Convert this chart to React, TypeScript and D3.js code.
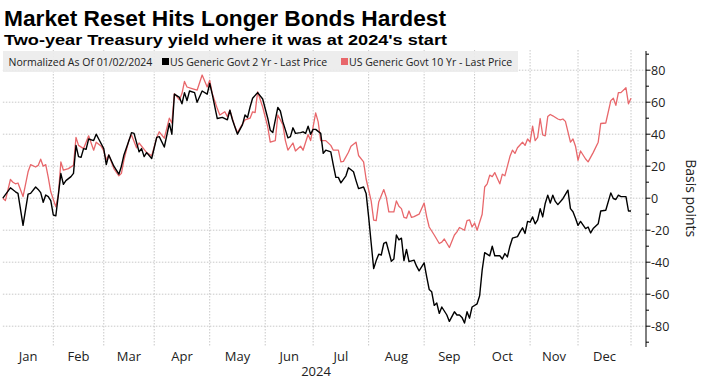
import React from "react";
import * as d3 from "d3";

const TITLE = "Market Reset Hits Longer Bonds Hardest";
const SUBTITLE = "Two-year Treasury yield where it was at 2024's start";
const LEGEND_NOTE = "Normalized As Of 01/02/2024";
const SERIES_NAMES = ["US Generic Govt 2 Yr - Last Price", "US Generic Govt 10 Yr - Last Price"];
const MONTHS = ["Jan", "Feb", "Mar", "Apr", "May", "Jun", "Jul", "Aug", "Sep", "Oct", "Nov", "Dec"];
const YEAR_LABEL = "2024";
const Y_LABEL = "Basis points";
const Y_TICKS = [-80, -60, -40, -20, 0, 20, 40, 60, 80];
const HOLIDAYS = ["2024-01-15", "2024-02-19", "2024-03-29", "2024-05-27", "2024-06-19", "2024-07-04", "2024-09-02", "2024-10-14", "2024-11-11", "2024-11-28", "2024-12-25"];

const twoYrDates = [
  "01-02","01-05","01-09","01-10","01-12","01-17","01-18","01-22","01-23","01-24","01-25","01-26","01-29","01-30","01-31",
  "02-01","02-05","02-06","02-07","02-09","02-12","02-13","02-14","02-15","02-16","02-20","02-21","02-23","02-26","02-27","02-29",
  "03-01","03-04","03-06","03-08","03-11","03-12","03-14","03-15","03-18","03-20","03-21","03-22","03-25","03-27",
  "04-01","04-02","04-04","04-08","04-09","04-10","04-12","04-15","04-16","04-17","04-18","04-22","04-23","04-25","04-29","04-30",
  "05-01","05-03","05-07","05-09","05-10","05-13","05-15","05-17","05-20","05-21","05-22","05-23","05-28","05-30",
  "06-03","06-04","06-05","06-07","06-10","06-11","06-13","06-14","06-17","06-18","06-21","06-24","06-25","06-26","06-27","06-28",
  "07-01","07-03","07-05","07-08","07-10","07-11","07-12","07-15","07-16","07-18","07-19","07-23","07-24","07-25","07-29","07-30","07-31",
  "08-01","08-02","08-05","08-06","08-07","08-08","08-09","08-13","08-14","08-15","08-16","08-19","08-20","08-21","08-22","08-26","08-27","08-28","08-30",
  "09-03","09-04","09-05","09-06","09-09","09-10","09-11","09-13","09-16","09-18","09-19","09-20","09-23","09-24","09-25","09-26","09-27",
  "10-01","10-02","10-03","10-04","10-08","10-09","10-10","10-15","10-16","10-17","10-18","10-21","10-22","10-24","10-25","10-28","10-29","10-30","10-31",
  "11-01","11-04","11-05","11-06","11-07","11-08","11-12","11-13","11-14","11-15","11-18","11-20","11-22","11-25","11-26","11-27","11-29",
  "12-02","12-04","12-05","12-06","12-09","12-11","12-12","12-16","12-18","12-19","12-20","12-23","12-24","12-27","12-30","12-31"
];
const twoYrValues = [
  0, 6.5, 4, 3, -17, 2.5, 3, 7, 5.5, 3.5, -2.5, 2, 1, -1.5, -10.5,
  -11, 15.4, 8.7, 11, 13.5, 15.5, 33, 26, 25.5, 31, 30.5, 37, 36, 40, 37, 31,
  21, 27, 20, 15, 20, 27, 36, 41, 40.5, 29, 31, 26, 28.5, 24.8,
  38, 38.5, 32, 46.7, 40, 65, 63, 59, 66, 61, 67, 66, 60, 67, 65, 71.7,
  65, 49.8, 50.5, 49, 55, 49, 40, 46, 52, 50.5, 57, 62.5, 66, 62,
  50, 42.5, 41, 56.7, 54.5, 47.7, 37.7, 38.5, 44, 40.5, 41, 41.5, 40.5, 45, 40, 43,
  43, 40.5, 28, 30, 29, 20.6, 13, 13, 9.6, 14, 19, 16.5, 11, 6, 7, 3, -11.7,
  -28, -44, -39, -35, -35.5, -28.3, -27.5, -39.4, -38, -23, -26, -25, -39, -32, -39.6, -38.7, -42.5, -45.4, -40.4,
  -49, -57, -58.5, -67, -65.5, -72, -68, -73, -77, -71, -73, -73, -74.5, -78, -71, -75, -68,
  -66, -61, -45, -34, -36, -30, -36, -36, -38, -34.6, -36.7, -30, -25, -24, -21, -18.5, -22, -14.5, -15,
  -11.7, -16, -13.5, -6.5, -11.7, -3.3, 1.9, -3, 1.9, -2, -4, -0.3, 5, -6.5, -8.5, -12.5, -17,
  -14.5, -19, -18, -21.7, -19, -16, -8, -7.5, 3.3, -0.2, -0.8, 1.9, 1, 1, -8, -8
];

const tenYrDates = [
  "01-02","01-03","01-05","01-08","01-09","01-10","01-12","01-17","01-18","01-22","01-23","01-24","01-25","01-26","01-29","01-30",
  "02-01","02-02","02-05","02-06","02-08","02-12","02-13","02-14","02-16","02-20","02-21","02-23","02-26","02-28","02-29",
  "03-01","03-04","03-06","03-08","03-11","03-12","03-14","03-15","03-19","03-20","03-22","03-25","03-27",
  "04-01","04-02","04-04","04-08","04-09","04-10","04-12","04-15","04-16","04-17","04-19","04-23","04-25","04-29","04-30",
  "05-01","05-03","05-06","05-08","05-09","05-10","05-14","05-15","05-17","05-20","05-22","05-23","05-24","05-28","05-30",
  "06-03","06-04","06-06","06-07","06-11","06-12","06-13","06-17","06-18","06-21","06-24","06-26","06-27",
  "07-01","07-02","07-03","07-08","07-10","07-11","07-15","07-16","07-17","07-19","07-22","07-24","07-25","07-29","07-30",
  "08-01","08-02","08-05","08-06","08-08","08-09","08-12","08-14","08-15","08-16","08-19","08-20","08-21","08-22","08-23","08-26","08-28","08-30",
  "09-03","09-04","09-06","09-10","09-11","09-12","09-16","09-18","09-19","09-20","09-24","09-25","09-26","09-27","09-30",
  "10-01","10-03","10-04","10-07","10-08","10-09","10-10","10-11","10-15","10-16","10-17","10-21","10-22","10-23","10-24","10-28","10-29","10-30","10-31",
  "11-01","11-04","11-05","11-06","11-07","11-08","11-12","11-13","11-14","11-18","11-19","11-20","11-21","11-25","11-26","11-27","11-29",
  "12-02","12-04","12-05","12-09","12-11","12-12","12-16","12-18","12-19","12-20","12-23","12-24","12-27","12-30","12-31"
];
const tenYrValues = [
  0, -1.5, 11.7, 10, 9, 9.5, 1, 16.5, 21, 19.5, 20.5, 24.4, 20, 21, 13, 4,
  -5.4, 2, 22.7, 17.5, 18.5, 20.6, 38, 33, 31, 35, 39, 30, 35, 32.5, 29.5,
  24, 27, 18.5, 14, 15.5, 24, 36.5, 39.5, 31.5, 34.5, 30.5, 28.5, 26.5,
  38, 41.5, 37.5, 50, 47, 65.4, 61.5, 65.4, 73, 69.5, 68.5, 67.5, 77, 69.5, 73.7,
  65.5, 56, 52, 54, 51, 55, 44.6, 41, 46.5, 49, 50, 54, 53.5, 66.5, 57,
  44.6, 35, 36, 52, 46, 36, 30, 34.5, 29.5, 32.5, 30, 39.8, 36,
  53.3, 47.7, 36, 36, 33, 30, 30, 22.7, 23, 28.7, 32.5, 35, 26.7, 22.7, 12,
  -1.7, -13.7, -14, -2.3, 5.4, 0.5, -8.5, -8.5, -1.7, -5, -6.5, -12, -12.5, -8, -12, -11.5, -10, -3,
  -11.5, -18, -23, -28.3, -27.5, -25.5, -30.8, -23, -21, -18.3, -20, -14, -13.5, -18, -15.5,
  -20, -10, 7, 9, 14.4, 13.5, 16, 12.5, 9, 15, 14, 26, 30, 28, 31.5, 35, 33, 37, 35,
  45, 36, 38, 49.8, 39.5, 39, 51, 52.3, 51.5, 49.5, 49, 49.5, 48, 35, 37, 32.5, 23.7,
  29.5, 24.5, 22.7, 28.5, 35, 46.7, 47, 61, 62.5, 58, 66, 66, 69, 59, 62.5
];

const W = 703;
const H = 379;
const fmt = d3.utcFormat("%Y-%m-%d");
const tradingDays = d3
  .utcDays(new Date(Date.UTC(2024, 0, 2)), new Date(Date.UTC(2025, 0, 1)))
  .filter((d) => d.getUTCDay() !== 0 && d.getUTCDay() !== 6 && !HOLIDAYS.includes(fmt(d)));
const idxOf = new Map(tradingDays.map((d, i) => [fmt(d), i] as [string, number]));

const PLOT = { left: 2.85, right: 631, top: 51, bottom: 347, axisX: 646 };

const x = d3.scaleLinear().domain([0, tradingDays.length - 1]).range([PLOT.left, PLOT.right]);
const y = d3.scaleLinear().domain([-93, 92]).range([PLOT.bottom, PLOT.top]);

function toPoints(dates: string[], values: number[]): [number, number][] {
  return dates.map((d, i) => [idxOf.get("2024-" + d) ?? 0, values[i]]);
}
const line = d3
  .line<[number, number]>()
  .x((d) => x(d[0]))
  .y((d) => y(d[1]));

const firstIdx = d3.range(12).map((m) => tradingDays.findIndex((d) => d.getUTCMonth() === m));
const boundaries = firstIdx.slice(1).map((i) => i - 1).concat(tradingDays.length - 1);
const monthEdges = [0, ...boundaries];

const FONT = "'Open Sans', 'Noto Sans', sans-serif";
const TITLE_FONT = "'Liberation Sans', Arial, sans-serif";
const BLACK = "#000000";
const RED = "#e8676b";

export default function App() {
  const allTicks = y.ticks(20).filter((t) => t >= -90 && t <= 90);
  return (
    <svg width={W} height={H} style={{ position: "absolute", left: 0, top: 0, background: "#fff" }} fontFamily={FONT}>
      <rect width={W} height={H} fill="#fff" />
      <text x={4} y={25.5} fontFamily={TITLE_FONT} fontSize={22} fontWeight={700} fill="#000" textLength={442} lengthAdjust="spacingAndGlyphs">
        {TITLE}
      </text>
      <text x={4} y={44.5} fontFamily={TITLE_FONT} fontSize={15.5} fontWeight={700} fill="#000" textLength={443} lengthAdjust="spacingAndGlyphs">
        {SUBTITLE}
      </text>

      {/* horizontal grid */}
      {Y_TICKS.map((t) => (
        <line key={"h" + t} x1={PLOT.left} x2={PLOT.axisX} y1={y(t)} y2={y(t)} stroke="#c8c8c8" strokeWidth={1} strokeDasharray="1.5,1.5" />
      ))}
      {/* vertical grid */}
      {boundaries.map((b) => (
        <line key={"v" + b} x1={x(b)} x2={x(b)} y1={PLOT.top - 1} y2={PLOT.bottom} stroke="#c8c8c8" strokeWidth={1} strokeDasharray="1.5,1.5" />
      ))}

      {/* legend bar */}
      <rect x={3} y={51} width={515} height={21} fill="#ebebeb" opacity={0.92} />
      <text x={8.5} y={65.5} fontSize={10.5} fill="#222">{LEGEND_NOTE}</text>
      <rect x={162} y={58} width={7} height={7} fill={BLACK} />
      <text x={170} y={65.5} fontSize={10.5} fill="#222">{SERIES_NAMES[0]}</text>
      <rect x={341} y={58} width={7} height={7} fill={RED} />
      <text x={349} y={65.5} fontSize={10.5} fill="#222">{SERIES_NAMES[1]}</text>

      {/* series */}
      <path d={line(toPoints(tenYrDates, tenYrValues)) ?? ""} fill="none" stroke={RED} strokeWidth={1.3} strokeLinejoin="round" />
      <path d={line(toPoints(twoYrDates, twoYrValues)) ?? ""} fill="none" stroke={BLACK} strokeWidth={1.4} strokeLinejoin="round" />

      {/* y axis */}
      <line x1={PLOT.axisX} x2={PLOT.axisX} y1={PLOT.top} y2={PLOT.bottom} stroke="#000" strokeWidth={1} />
      {allTicks.map((t) => (
        <line key={"t" + t} x1={PLOT.axisX} x2={PLOT.axisX + (t % 20 === 0 ? 4.5 : 3)} y1={y(t)} y2={y(t)} stroke="#000" strokeWidth={1} />
      ))}
      {Y_TICKS.map((t) => (
        <text key={"l" + t} x={PLOT.axisX + 5} y={y(t)} dy="0.35em" fontSize={12.5} fill="#222">
          {String(t)}
        </text>
      ))}
      <text transform={`translate(686, ${y(0)}) rotate(90)`} textAnchor="middle" fontSize={14} fill="#222">
        {Y_LABEL}
      </text>

      {/* x axis labels */}
      {MONTHS.map((m, i) => (
        <text key={m} x={(x(monthEdges[i]) + x(monthEdges[i + 1])) / 2} y={361} textAnchor="middle" fontSize={13} fill="#222">
          {m}
        </text>
      ))}
      <text x={316} y={376} textAnchor="middle" fontSize={13} fill="#222">{YEAR_LABEL}</text>
    </svg>
  );
}
